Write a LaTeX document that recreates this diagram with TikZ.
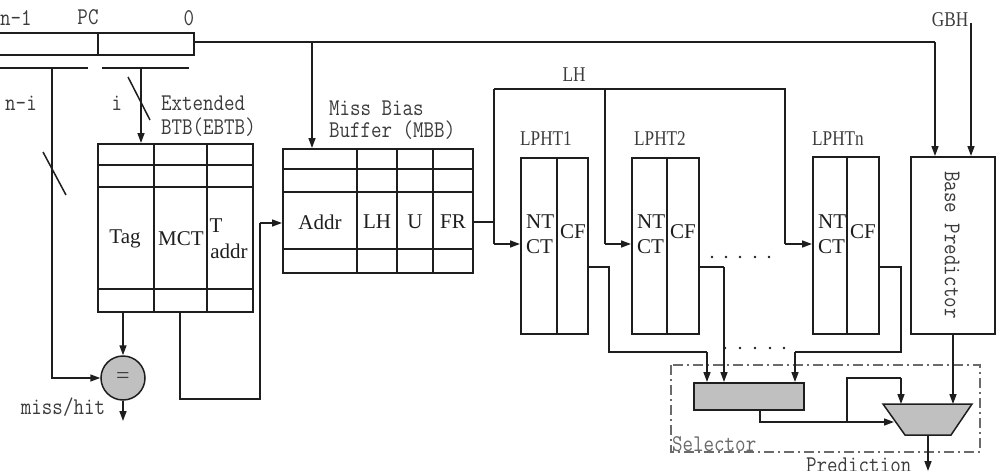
\documentclass[tikz,border=0pt]{standalone}
\usepackage{fontspec}
\setmainfont{Liberation Serif}
\setmonofont[FakeStretch=0.85]{Latin Modern Mono}
\newfontfamily\narrowserif[FakeStretch=0.82]{Liberation Serif}
\usetikzlibrary{arrows.meta}
\definecolor{ink}{HTML}{1E1E1E}
\definecolor{labelgray}{HTML}{3C3C3C}
\definecolor{boxgray}{HTML}{C0C0C0}
\definecolor{dashgray}{HTML}{6A6A6A}
\tikzset{
  wire/.style={draw=ink, line width=1.5pt},
  arr/.style={wire, -{Triangle[length=10pt,width=7pt]}},
  tablebox/.style={draw=ink, line width=1.5pt, fill=white, anchor=north west, inner sep=0pt},
  monolbl/.style={font=\ttfamily\fontsize{24}{26}\selectfont, text=labelgray, inner sep=0pt},
  celltxt/.style={font=\fontsize{21}{22}\selectfont, text=ink, inner sep=0pt},
  narrowlbl/.style={font=\narrowserif\fontsize{21}{22}\selectfont, text=labelgray, inner sep=0pt},
  dotmark/.style={fill=ink, draw=none, circle, inner sep=0pt, minimum size=2.8pt},
}
\begin{document}
\begin{tikzpicture}[x=1pt,y=-1pt]
\useasboundingbox (0,0) rectangle (996,471);

% ---------- PC register ----------
\node[tablebox, minimum width=127pt, minimum height=22pt] (pchi) at (-30,32) {};
\node[tablebox, minimum width=96pt, minimum height=22pt] (pclo) at (97,32) {};
\node[monolbl, anchor=west] (lnm1) at (0,18) {n-1};
\node[monolbl] (lpc) at (88,17) {PC};
\node[monolbl] (lzero) at (189,18) {0};

% brackets under the register
\coordinate (brA1) at (0,68);   \coordinate (brA2) at (88,68);
\coordinate (brB1) at (102,68); \coordinate (brB2) at (189,68);
\draw[wire] (brA1) -- (brA2);
\draw[wire] (brB1) -- (brB2);
\node[monolbl] (lni) at (21,103) {n-i};
\node[monolbl] (li) at (117,103) {i};
\node[monolbl, anchor=west] (lext) at (161,103) {Extended};
\node[monolbl, anchor=west] (lebtb) at (161,127) {BTB(EBTB)};

% ---------- EBTB ----------
\node[tablebox, minimum width=155pt, minimum height=168pt] (ebtb) at (97,143) {};
\foreach \yy in {165,187,289} \draw[wire] (97,\yy) -- (252,\yy);
\foreach \xx in {154,207} \draw[wire] (\xx,143) -- (\xx,311);
\node[celltxt] (ttag) at (125,239) {Tag};
\node[celltxt] (tmct) at (181,239) {MCT};
\node[celltxt] (tt) at (216,226) {T};
\node[celltxt] (taddr) at (229,251) {addr};

% slashes
\draw[wire] (128,77) -- (150,120);
\draw[wire] (43,152) -- (66,195);

% ---------- compare ----------
\node[circle, draw=ink, line width=1.5pt, fill=boxgray, minimum size=44pt, inner sep=0pt,
      font=\fontsize{24}{24}\selectfont, text=labelgray] (eq) at (123,378) {=};
\coordinate (mh) at (123,421);
\node[monolbl] (lmiss) at (63,407) {miss/hit};

\draw[arr] (141,68) -- (141,143);
\draw[arr] (52,68) -- (52,378) -- (eq.west);
\draw[arr] (123,311) -- (eq.north);
\draw[arr] (eq.south) -- (mh);

% ---------- MBB ----------
\node[tablebox, minimum width=190pt, minimum height=124pt] (mbb) at (282,148) {};
\foreach \yy in {169,192,249} \draw[wire] (282,\yy) -- (472,\yy);
\foreach \xx in {357,397,433} \draw[wire] (\xx,148) -- (\xx,272);
\node[celltxt] (taddr2) at (320,222) {Addr};
\node[celltxt] (tlh) at (377,222) {LH};
\node[celltxt] (tu) at (415,222) {U};
\node[celltxt] (tfr) at (453,222) {FR};
\node[monolbl, anchor=west] (lmiss2) at (329,108) {Miss Bias};
\node[monolbl, anchor=west] (lbuf) at (329,130) {Buffer (MBB)};

\draw[wire] (180,311) -- (180,399) -- (260,399) -- (260,223);
\draw[arr] (260,223) -- (282,223);

% ---------- Base predictor ----------
\node[tablebox, minimum width=84pt, minimum height=177pt] (base) at (910,156) {};
\node[monolbl, rotate=-90] (lbase) at (952,245) {Base Predictor};
\node[narrowlbl, text=labelgray] (lgbh) at (950,20) {GBH};

\draw[wire] (pclo.east |- 0,42) -- (935,42);
\draw[arr] (935,42) -- (935,156);
\draw[arr] (312,42) -- (312,148);
\draw[arr] (971,23) -- (971,156);

% ---------- LPHTs ----------
\node[tablebox, minimum width=67pt, minimum height=176pt] (lp1) at (520,157) {};
\draw[wire] (557,157) -- (557,333);
\node[tablebox, minimum width=67pt, minimum height=176pt] (lp2) at (631,157) {};
\draw[wire] (667,157) -- (667,333);
\node[tablebox, minimum width=66pt, minimum height=177pt] (lpn) at (812,156) {};
\draw[wire] (847,156) -- (847,333);

\node[narrowlbl] (llp1) at (546,139) {LPHT1};
\node[narrowlbl] (llp2) at (660,139) {LPHT2};
\node[narrowlbl] (llpn) at (838,139) {LPHTn};
\node[narrowlbl] (llh) at (574,75) {LH};

\foreach \lx/\dx in {520/557,631/667,812/847}{
  \node[celltxt, anchor=west] at (\lx+6,222) {NT};
  \node[celltxt, anchor=west] at (\lx+6,247) {CT};
  \node[celltxt] at (\dx+16,232) {CF};
}

% LH distribution
\draw[wire] (472,222) -- (494,222);
\draw[wire] (494,89) -- (494,244);
\draw[arr] (494,244) -- (520,244);
\draw[wire] (494,89) -- (785,89) -- (785,244);
\draw[arr] (785,244) -- (812,244);
\draw[wire] (605,89) -- (605,244);
\draw[arr] (605,244) -- (631,244);

% dots
\foreach \xx in {712,726,740,755,769} \node[dotmark] at (\xx,257) {};
\foreach \xx in {725,740,755,770,784} \node[dotmark] at (\xx,348) {};

% ---------- Selector ----------
\draw[dashgray, line width=1.4pt, dash pattern=on 10pt off 4pt on 2pt off 4pt]
  (671,365) rectangle (980,452);
\node[monolbl, text=dashgray, anchor=west] (lsel) at (672,444) {Selector};

\node[draw=ink, line width=1.5pt, fill=boxgray, anchor=north west, minimum width=110pt,
      minimum height=27pt, inner sep=0pt] (sel) at (693,382) {};

\draw[wire] (587,267) -- (609,267) -- (609,352) -- (707,352);
\draw[arr] (707,352) -- (707,382);
\draw[wire] (698,267) -- (724,267);
\draw[arr] (724,267) -- (724,382);
\draw[wire] (878,267) -- (901,267) -- (901,352) -- (795,352);
\draw[arr] (795,352) -- (795,382);

% mux
\coordinate (muxtl) at (883,404);
\coordinate (muxtr) at (972,404);
\coordinate (muxbr) at (951,435);
\coordinate (muxbl) at (905,435);
\draw[draw=ink, line width=1.5pt, fill=boxgray] (muxtl) -- (muxtr) -- (muxbr) -- (muxbl) -- cycle;

\draw[wire] (760,409) -- (760,422) -- (847,422);
\draw[arr] (847,422) -- (894,422);
\draw[wire] (847,422) -- (847,378) -- (901,378);
\draw[arr] (901,378) -- (901,404);
\draw[arr] (953,333) -- (953,404);
\draw[arr] (928,435) -- (928,471);
\node[monolbl, anchor=north west] (lpred) at (806,458) {Prediction};
\end{tikzpicture}
\end{document}
